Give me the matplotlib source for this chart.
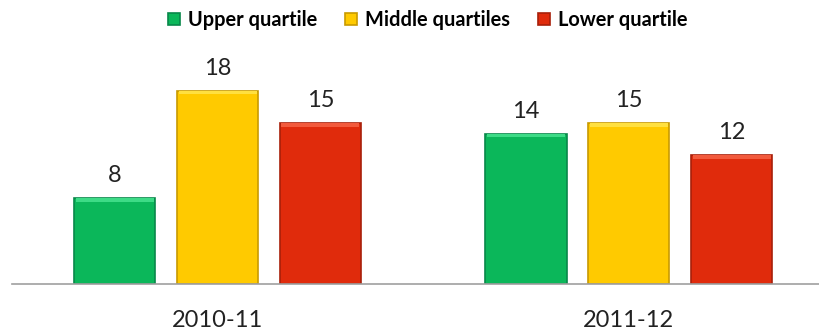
import matplotlib
matplotlib.use("Agg")
import matplotlib.pyplot as plt
import numpy as np

categories = ["2010-11", "2011-12"]
series_names = ["Upper quartile", "Middle quartiles", "Lower quartile"]
upper = [8, 14]
middle = [18, 15]
lower = [15, 12]

colors = ["#0BB75A", "#FFCA00", "#E02B0C"]
edge_colors = ["#08884A", "#C89A00", "#A8200A"]
top_colors = ["#3DDB86", "#FFE040", "#F25A3C"]

plt.rcParams['font.family'] = ['Lato', 'DejaVu Sans']

fig = plt.figure(figsize=(8.19, 3.31), dpi=100)
ax = fig.add_axes([12/819, 47/331, 807/819, 244/331])

group_centers = np.array([0.0, 4.0])
offsets = [-1.0, 0.0, 1.0]
width = 0.79
data = [upper, middle, lower]

handles = []
for vals, off, c, ec, tc, name in zip(data, offsets, colors, edge_colors, top_colors, series_names):
    x = group_centers + off
    b = ax.bar(x, vals, width=width, color=c, edgecolor=ec, linewidth=1.2, label=name, zorder=2)
    # subtle top bevel highlight
    ax.bar(x, [0.35]*len(vals), bottom=np.array(vals) - 0.35, width=width*0.96,
           color=tc, linewidth=0, zorder=3)
    handles.append(b)
    for xi, v in zip(x, vals):
        ax.text(xi, v + 1.1, str(v), ha="center", va="bottom", fontsize=17, color="#222222")

ax.set_xlim(-2.0, 5.85)
ax.set_ylim(0, 22.7)
for s in ["top", "right", "left"]:
    ax.spines[s].set_visible(False)
ax.spines["bottom"].set_color("#A0A0A0")
ax.spines["bottom"].set_linewidth(1.2)
ax.set_yticks([])
ax.set_xticks(group_centers)
ax.set_xticklabels(categories, fontsize=17, color="#222222")
ax.tick_params(axis="x", length=0, pad=19)

leg = fig.legend(handles=handles, labels=series_names, loc="center",
                 bbox_to_anchor=(428/819, 1 - 20/331), ncol=3, frameon=False,
                 prop={"weight": "bold", "size": 14.4}, handlelength=0.6, handleheight=0.6,
                 handletextpad=0.4, columnspacing=1.4)

fig.savefig("out.png", dpi=100)
